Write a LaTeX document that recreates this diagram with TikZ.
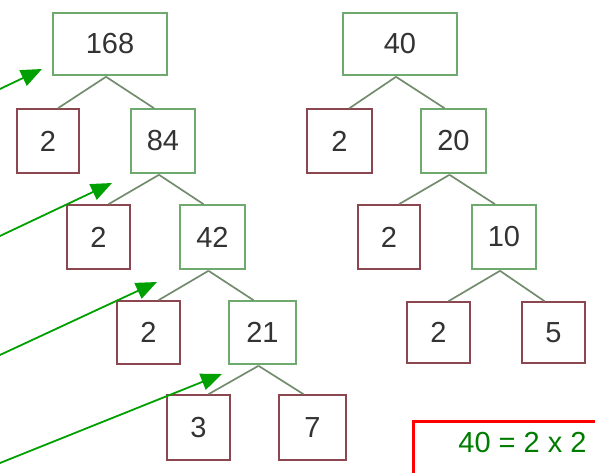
\documentclass[tikz,border=0pt]{standalone}
\usepackage{fontspec}
\setmainfont{Liberation Sans}
\usetikzlibrary{arrows.meta}
\definecolor{gbox}{RGB}{110,170,110}
\definecolor{rbox}{RGB}{140,70,80}
\definecolor{conn}{RGB}{115,140,110}
\definecolor{arrg}{RGB}{0,160,0}
\definecolor{txtg}{RGB}{0,125,0}
\tikzset{
  numbox/.style={draw, line width=1.6pt, fill=white, inner sep=0pt, anchor=center,
    font=\fontsize{29}{30}\selectfont, text=black!80},
  gnode/.style={numbox, draw=gbox},
  rnode/.style={numbox, draw=rbox},
  conline/.style={draw=conn, line width=1.7pt},
  pointer/.style={draw=arrg, line width=1.8pt, -{Triangle[length=21pt,width=17pt]}},
}
\begin{document}
\begin{tikzpicture}[x=1pt,y=-1pt]
\useasboundingbox (0,0) rectangle (595,473);
\clip (0,0) rectangle (595,473);
% left tree
\node[gnode, minimum width=114pt, minimum height=62pt] (n168) at (110,44) {168};
\node[rnode, minimum width=62pt, minimum height=64pt] (l2a) at (48,141) {2};
\node[gnode, minimum width=64pt, minimum height=64pt] (n84) at (163,141) {84};
\node[rnode, minimum width=63pt, minimum height=64pt] (l2b) at (98.5,237) {2};
\node[gnode, minimum width=65pt, minimum height=64pt] (n42) at (212.5,237) {42};
\node[rnode, minimum width=63pt, minimum height=63pt] (l2c) at (148.5,332.5) {2};
\node[gnode, minimum width=67pt, minimum height=63pt] (n21) at (262.5,332.5) {21};
\node[rnode, minimum width=63pt, minimum height=65pt] (n3) at (198.5,427.5) {3};
\node[rnode, minimum width=67pt, minimum height=65pt] (n7) at (312.5,427.5) {7};
% right tree
\node[gnode, minimum width=114pt, minimum height=62pt] (n40) at (400,44) {40};
\node[rnode, minimum width=65pt, minimum height=64pt] (r2a) at (339.5,141) {2};
\node[gnode, minimum width=65pt, minimum height=64pt] (n20) at (453.5,141) {20};
\node[rnode, minimum width=62pt, minimum height=64pt] (r2b) at (389,237) {2};
\node[gnode, minimum width=64pt, minimum height=64pt] (n10) at (504,237) {10};
\node[rnode, minimum width=63pt, minimum height=61pt] (r2c) at (438.5,332.5) {2};
\node[rnode, minimum width=63pt, minimum height=61pt] (n5) at (553.5,332.5) {5};
% connectors
\foreach \p/\l/\r in {n168/l2a/n84, n84/l2b/n42, n42/l2c/n21, n21/n3/n7, n40/r2a/n20, n20/r2b/n10, n10/r2c/n5}{
  \path[conline] ([xshift=-4pt,yshift=-1pt]\p.south) -- ([xshift=10pt]\l.north);
  \path[conline] ([xshift=-4pt,yshift=-1pt]\p.south) -- ([xshift=-9pt]\r.north);
}
% pointers
\coordinate (s1) at (-20,98.5);
\coordinate (t1) at (42,69);
\coordinate (s2) at (-10,240.7);
\coordinate (t2) at (112,183);
\coordinate (s3) at (-10,359.6);
\coordinate (t3) at (157,282);
\coordinate (s4) at (-10,467);
\coordinate (t4) at (222,374);
\foreach \i in {1,2,3,4}{\draw[pointer] (s\i) -- (t\i);}
% result box
\draw[red, line width=3pt] (613,490) -- (413,490) -- (413,421) -- (613,421);
\node[font=\fontsize{29}{30}\selectfont, text=txtg, inner sep=0pt] (res) at (522.5,443) {40 = 2 x 2};
\end{tikzpicture}
\end{document}
